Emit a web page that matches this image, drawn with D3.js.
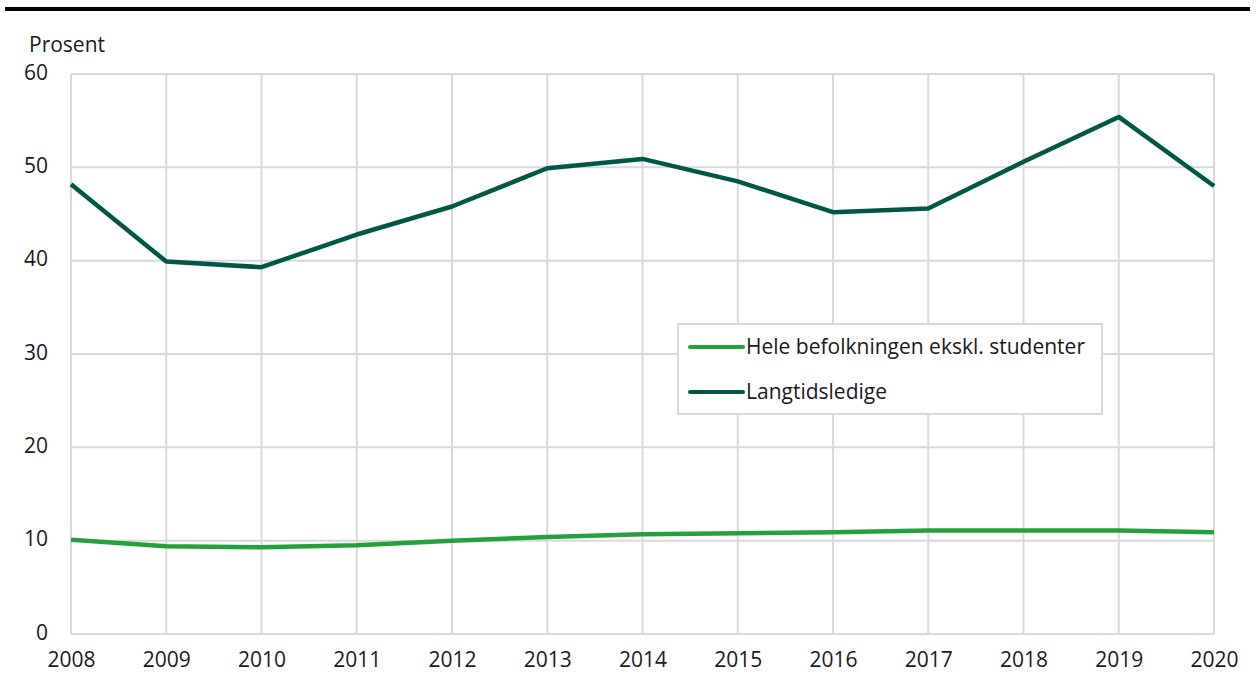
<!DOCTYPE html>
<html>
<head>
<meta charset="utf-8">
<script src="https://cdn.jsdelivr.net/npm/d3@7"></script>
<style>
  body { margin: 0; background: #fff; }
  svg, svg text { font-family: "Open Sans", sans-serif; }
  .tick text { font-size: 21px; fill: #1a1a1a; font-family: "Open Sans", sans-serif; }
</style>
</head>
<body>
<svg id="chart" width="1257" height="675"></svg>
<script>
var years = [2008, 2009, 2010, 2011, 2012, 2013, 2014, 2015, 2016, 2017, 2018, 2019, 2020];
var hele = [10.1, 9.4, 9.3, 9.5, 10.0, 10.4, 10.7, 10.8, 10.9, 11.1, 11.1, 11.1, 10.9];
var langtid = [48.2, 39.9, 39.3, 42.8, 45.8, 49.9, 50.9, 48.5, 45.2, 45.6, 50.6, 55.4, 48.0];
var yTicks = [0, 10, 20, 30, 40, 50, 60];
var seriesNames = ["Hele befolkningen ekskl. studenter", "Langtidsledige"];

var svg = d3.select("#chart");
var m = { left: 71, right: 43, top: 74, bottom: 41 };
var W = 1257, H = 675;

var light_green = "#24a03c";
var dark_green = "#005843";
var grid_gray = "#d9d9d9";

var x = d3.scaleLinear().domain([2008, 2020]).range([m.left, W - m.right]);
var y = d3.scaleLinear().domain([0, 60]).range([H - m.bottom, m.top]);

// top rule (title itself is cut off in the picture)
svg.append("rect")
   .attr("x", 5).attr("y", 7).attr("width", 1245).attr("height", 4)
   .style("fill", "#000");

// gridlines
svg.append("g").selectAll("line.v")
   .data(years)
   .enter().append("line")
   .attr("x1", function(d) { return x(d); })
   .attr("x2", function(d) { return x(d); })
   .attr("y1", y(60)).attr("y2", y(0))
   .style("stroke", grid_gray).style("stroke-width", 2);

svg.append("g").selectAll("line.h")
   .data(yTicks)
   .enter().append("line")
   .attr("x1", x(2008)).attr("x2", x(2020))
   .attr("y1", function(d) { return y(d); })
   .attr("y2", function(d) { return y(d); })
   .style("stroke", grid_gray).style("stroke-width", 2);

// axes
var xAxis = svg.append("g")
   .attr("transform", "translate(0," + y(0) + ")")
   .call(d3.axisBottom(x).tickValues(years).tickFormat(d3.format("d")).tickSize(0).tickPadding(18));
xAxis.select(".domain").remove();

var yAxis = svg.append("g")
   .attr("transform", "translate(" + x(2008) + ",0)")
   .call(d3.axisLeft(y).tickValues(yTicks).tickSize(0).tickPadding(23));
yAxis.select(".domain").remove();
yAxis.selectAll(".tick text").attr("dy", "0.25em");

svg.append("text")
   .attr("x", 29).attr("y", 52)
   .style("font-size", "21px").style("fill", "#1a1a1a")
   .text("Prosent");

// lines
var line = d3.line()
   .x(function(d, i) { return x(years[i]); })
   .y(function(d) { return y(d); });

svg.append("path").datum(hele)
   .attr("d", line)
   .style("fill", "none").style("stroke", light_green)
   .style("stroke-width", 4.5).style("stroke-linejoin", "round");

svg.append("path").datum(langtid)
   .attr("d", line)
   .style("fill", "none").style("stroke", dark_green)
   .style("stroke-width", 4.5).style("stroke-linejoin", "round");

// legend
var legend = svg.append("g").attr("transform", "translate(678,324)");
legend.append("rect")
   .attr("width", 424).attr("height", 90)
   .style("fill", "#fff").style("stroke", grid_gray).style("stroke-width", 2);

var legColors = [light_green, dark_green];
legend.selectAll("g.item")
   .data(seriesNames)
   .enter().append("g")
   .attr("transform", function(d, i) { return "translate(12," + (23 + i * 45) + ")"; })
   .each(function(d, i) {
     var g = d3.select(this);
     g.append("line")
      .attr("x1", 0).attr("x2", 53).attr("y1", 0).attr("y2", 0)
      .style("stroke", legColors[i]).style("stroke-width", 4).style("stroke-linecap", "round");
     g.append("text")
      .attr("x", 56).attr("y", 0).attr("dy", "0.35em")
      .style("font-size", "21px").style("fill", "#1a1a1a")
      .text(d);
   });
</script>
</body>
</html>
